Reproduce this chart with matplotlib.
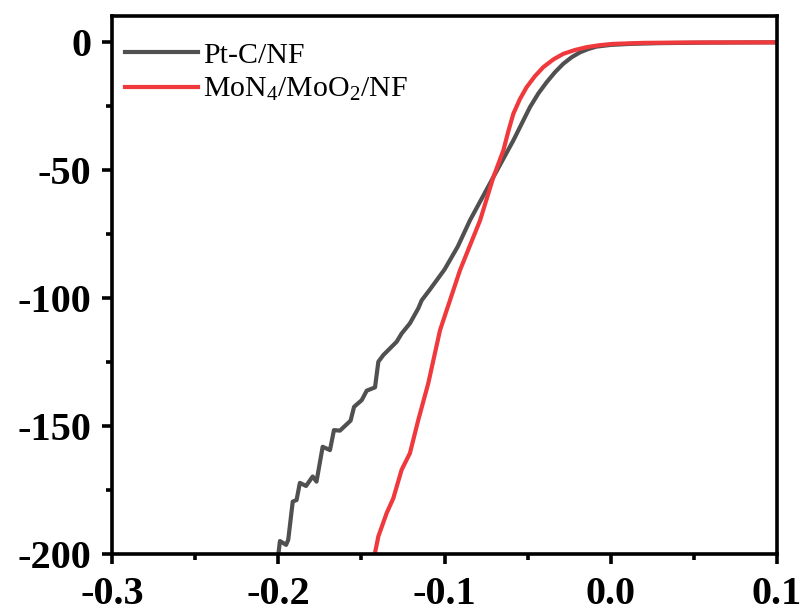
import matplotlib
matplotlib.use("Agg")
import matplotlib.pyplot as plt
from matplotlib.ticker import MultipleLocator, FormatStrFormatter

plt.rcParams['font.family'] = ['Liberation Serif', 'DejaVu Serif']
plt.rcParams['mathtext.fontset'] = 'custom'
plt.rcParams['mathtext.rm'] = 'Liberation Serif'
plt.rcParams['mathtext.it'] = 'Liberation Serif:italic'
plt.rcParams['axes.unicode_minus'] = False

# Pt-C/NF polarization curve (potential, current density)
ptc_x = [-0.2045, -0.2, -0.199, -0.1953, -0.194, -0.1913, -0.189, -0.187, -0.1833,
         -0.1793, -0.177, -0.1733, -0.1689, -0.1665, -0.1629, -0.1565, -0.1544,
         -0.1498, -0.1468, -0.1418, -0.1398, -0.1368, -0.1288, -0.1258, -0.1208,
         -0.1158, -0.1137, -0.109, -0.1, -0.092, -0.0847, -0.0706, -0.0586,
         -0.0486, -0.0436, -0.0386, -0.0336, -0.0286, -0.0235, -0.0185, -0.0135,
         -0.0085, 0.0, 0.0116, 0.03, 0.06, 0.1]
ptc_y = [-201, -200.5, -195, -196.5, -194.5, -179.6, -179, -172.3, -173.5,
         -169.8, -171.8, -158.2, -159.5, -151.7, -151.9, -148, -142.6,
         -140, -136.3, -135, -125, -122.4, -117.2, -114, -110,
         -104.2, -101, -97, -89, -80, -69.8, -52.9, -38.6,
         -25.6, -20.3, -15.9, -12.0, -8.7, -6.1, -4.2, -2.9,
         -1.95, -1.3, -0.9, -0.6, -0.4, -0.3]

# MoN4/MoO2/NF polarization curve
mon_x = [-0.1425, -0.1418, -0.1398, -0.1348, -0.1308, -0.1258, -0.1208, -0.1158,
         -0.1098, -0.1027, -0.0907, -0.0786, -0.0706, -0.0646, -0.0616, -0.0586,
         -0.0546, -0.0506, -0.0456, -0.0406, -0.0346, -0.0286, -0.0216, -0.0146,
         -0.0066, 0.0014, 0.02, 0.05, 0.1]
mon_y = [-202, -199.6, -193.2, -184.1, -178.3, -167.2, -160.7, -147.8,
         -133.5, -112.7, -89.3, -69.8, -52.9, -42.5, -35.0, -28.2,
         -22.4, -17.8, -13.5, -10, -7.0, -4.8, -3.3, -2.2,
         -1.4, -0.9, -0.5, -0.35, -0.3]

fig = plt.figure(figsize=(8.06, 6.14), dpi=100)
ax = fig.add_axes([0.139, 0.098, 0.825, 0.876])

ax.plot(ptc_x, ptc_y, color='#505050', lw=3.0, label='Pt-C/NF')
ax.plot(mon_x, mon_y, color='#f0393c', lw=3.0, label='MoN$_4$/MoO$_2$/NF')

ax.set_xlim(-0.3, 0.1)
ax.set_ylim(-200, 10)
ax.xaxis.set_major_locator(MultipleLocator(0.1))
ax.xaxis.set_minor_locator(MultipleLocator(0.05))
ax.yaxis.set_major_locator(MultipleLocator(50))
ax.yaxis.set_minor_locator(MultipleLocator(25))
ax.xaxis.set_major_formatter(FormatStrFormatter('%.1f'))

for s in ax.spines.values():
    s.set_linewidth(2.6)
ax.tick_params(which='major', direction='out', length=7, width=2.6,
               labelsize=29, pad=8, top=False, right=False)
ax.tick_params(axis='x', which='major', pad=9)
ax.tick_params(which='minor', direction='out', length=4, width=2.6,
               top=False, right=False)
for lab in ax.get_xticklabels() + ax.get_yticklabels():
    lab.set_fontweight('bold')

ax.legend(loc='upper left', bbox_to_anchor=(0.002, 1 - 14 / 538), frameon=False,
          fontsize=21.5, handlelength=2.45, handletextpad=0.15, labelspacing=0.25,
          borderaxespad=0)

fig.savefig('out.png', dpi=100)
